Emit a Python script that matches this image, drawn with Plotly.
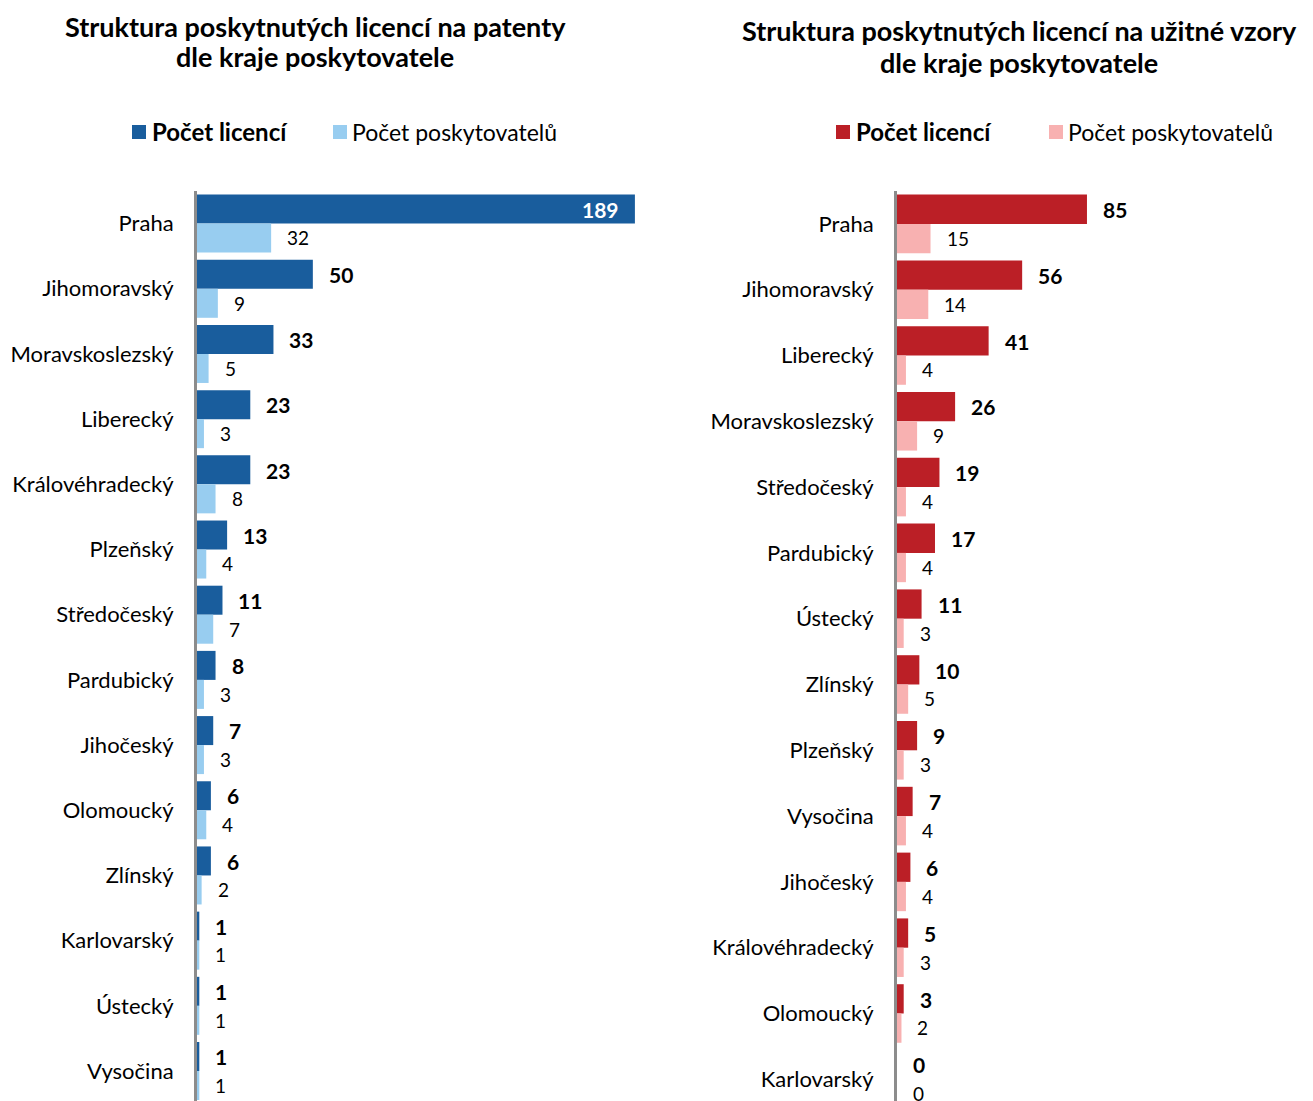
import plotly.graph_objects as go

# ---------------- data ----------------
pat_regions = ["Praha", "Jihomoravský", "Moravskoslezský", "Liberecký", "Královéhradecký",
               "Plzeňský", "Středočeský", "Pardubický", "Jihočeský", "Olomoucký", "Zlínský",
               "Karlovarský", "Ústecký", "Vysočina"]
pat_licences = [189, 50, 33, 23, 23, 13, 11, 8, 7, 6, 6, 1, 1, 1]
pat_providers = [32, 9, 5, 3, 8, 4, 7, 3, 3, 4, 2, 1, 1, 1]

uv_regions = ["Praha", "Jihomoravský", "Liberecký", "Moravskoslezský", "Středočeský",
              "Pardubický", "Ústecký", "Zlínský", "Plzeňský", "Vysočina", "Jihočeský",
              "Královéhradecký", "Olomoucký", "Karlovarský"]
uv_licences = [85, 56, 41, 26, 19, 17, 11, 10, 9, 7, 6, 5, 3, 0]
uv_providers = [15, 14, 4, 9, 4, 4, 3, 5, 3, 4, 4, 3, 2, 0]

title_left = ["Struktura poskytnutých licencí na patenty", "dle kraje poskytovatele"]
title_right = ["Struktura poskytnutých licencí na užitné vzory", "dle kraje poskytovatele"]
name_lic = "Počet licencí"
name_prov = "Počet poskytovatelů"

# ---------------- styling ----------------
OFFS = 8                      # page body margin
W, H = 1313 - OFFS, 1101 - OFFS
FONT = "Gill Sans, Lato, sans-serif"
BLUE_D, BLUE_L = "#195d9d", "#98cdf0"
RED_D, RED_L = "#bb1f26", "#f8b1b1"
AXIS_C = "#8c8c8c"

def px_x(p):
    return (p - OFFS) / W

def px_y(p):
    return 1 - (p - OFFS) / H

fig = go.Figure()

fig.add_trace(go.Bar(y=pat_regions, x=pat_licences, orientation="h", name=name_lic,
                     marker=dict(color=BLUE_D, line=dict(width=0)), xaxis="x", yaxis="y",
                     showlegend=False))
fig.add_trace(go.Bar(y=pat_regions, x=pat_providers, orientation="h", name=name_prov,
                     marker=dict(color=BLUE_L, line=dict(width=0)), xaxis="x", yaxis="y",
                     showlegend=False))
fig.add_trace(go.Bar(y=uv_regions, x=uv_licences, orientation="h", name=name_lic,
                     marker=dict(color=RED_D, line=dict(width=0)), xaxis="x2", yaxis="y2",
                     showlegend=False))
fig.add_trace(go.Bar(y=uv_regions, x=uv_providers, orientation="h", name=name_prov,
                     marker=dict(color=RED_L, line=dict(width=0)), xaxis="x2", yaxis="y2",
                     showlegend=False))

annotations = []
shapes = []
OFF = 0.22  # half distance between paired bars in category units

def add_labels(regions, lic, prov, xref, yref):
    vmax = max(lic)
    for i, (r, a, b) in enumerate(zip(regions, lic, prov)):
        inside = a == vmax and a > 100
        annotations.append(dict(
            x=a, y=i - OFF, xref=xref, yref=yref, text="<b>%d</b>" % a, showarrow=False,
            xanchor="right" if inside else "left", xshift=-14 if inside else 14,
            font=dict(family=FONT, size=21, color="white" if inside else "black")))
        annotations.append(dict(
            x=b, y=i + OFF, xref=xref, yref=yref, text="%d" % b, showarrow=False,
            xanchor="left", xshift=14, font=dict(family=FONT, size=19, color="black")))

add_labels(pat_regions, pat_licences, pat_providers, "x", "y")
add_labels(uv_regions, uv_licences, uv_providers, "x2", "y2")

def add_title(lines, cx, ys):
    for t, y in zip(lines, ys):
        annotations.append(dict(x=px_x(cx), y=px_y(y), xref="paper", yref="paper",
                                text="<b>" + t + "</b>", showarrow=False,
                                xanchor="center", yanchor="middle",
                                font=dict(family=FONT, size=27, color="black")))

add_title(title_left, 315, [26, 57])
add_title(title_right, 1019, [31, 62])

def add_legend(items, y):
    # items: (swatch_left_px, text_left_px, label, colour, bold)
    for sx, tx, label, col, bold in items:
        shapes.append(dict(type="rect", xref="paper", yref="paper",
                           x0=px_x(sx), x1=px_x(sx + 14), y0=px_y(y - 7), y1=px_y(y + 7),
                           fillcolor=col, line=dict(width=0)))
        annotations.append(dict(x=px_x(tx), y=px_y(y), xref="paper", yref="paper",
                                text=("<b>%s</b>" % label) if bold else label, showarrow=False,
                                xanchor="left", yanchor="middle",
                                font=dict(family=FONT, size=24 if bold else 23, color="black")))

add_legend([(132, 150, name_lic, BLUE_D, True), (333, 350, name_prov, BLUE_L, False)], 132)
add_legend([(836, 854, name_lic, RED_D, True), (1049, 1066, name_prov, RED_L, False)], 132)

axis_common = dict(showgrid=False, zeroline=False, showticklabels=False, ticks="",
                   fixedrange=True)
yaxis_common = dict(type="category", showgrid=False, zeroline=False, showline=True,
                    linecolor=AXIS_C, linewidth=3, ticks="",
                    tickfont=dict(family=FONT, size=22, color="black"))

fig.update_layout(
    width=W, height=H,
    margin=dict(l=0, r=0, t=0, b=0),
    paper_bgcolor="white", plot_bgcolor="white",
    barmode="group", bargap=0.11, bargroupgap=0,
    font=dict(family=FONT, color="black"),
    xaxis=dict(domain=[px_x(197), px_x(650)], range=[0, (650 - 197) / 2.317], anchor="y", **axis_common),
    yaxis=dict(domain=[0, px_y(191)], range=[13.46, -0.5], anchor="x", ticklabelstandoff=16,
               categoryorder="array", categoryarray=pat_regions, **yaxis_common),
    xaxis2=dict(domain=[px_x(897), px_x(1300)], range=[0, (1300 - 897) / 2.235], anchor="y2", **axis_common),
    yaxis2=dict(domain=[0, px_y(191)], range=[13.33, -0.5], anchor="x2", ticklabelstandoff=16,
                categoryorder="array", categoryarray=uv_regions, **yaxis_common),
    annotations=annotations,
    shapes=shapes,
    showlegend=False,
)

fig.write_html("out.html")
